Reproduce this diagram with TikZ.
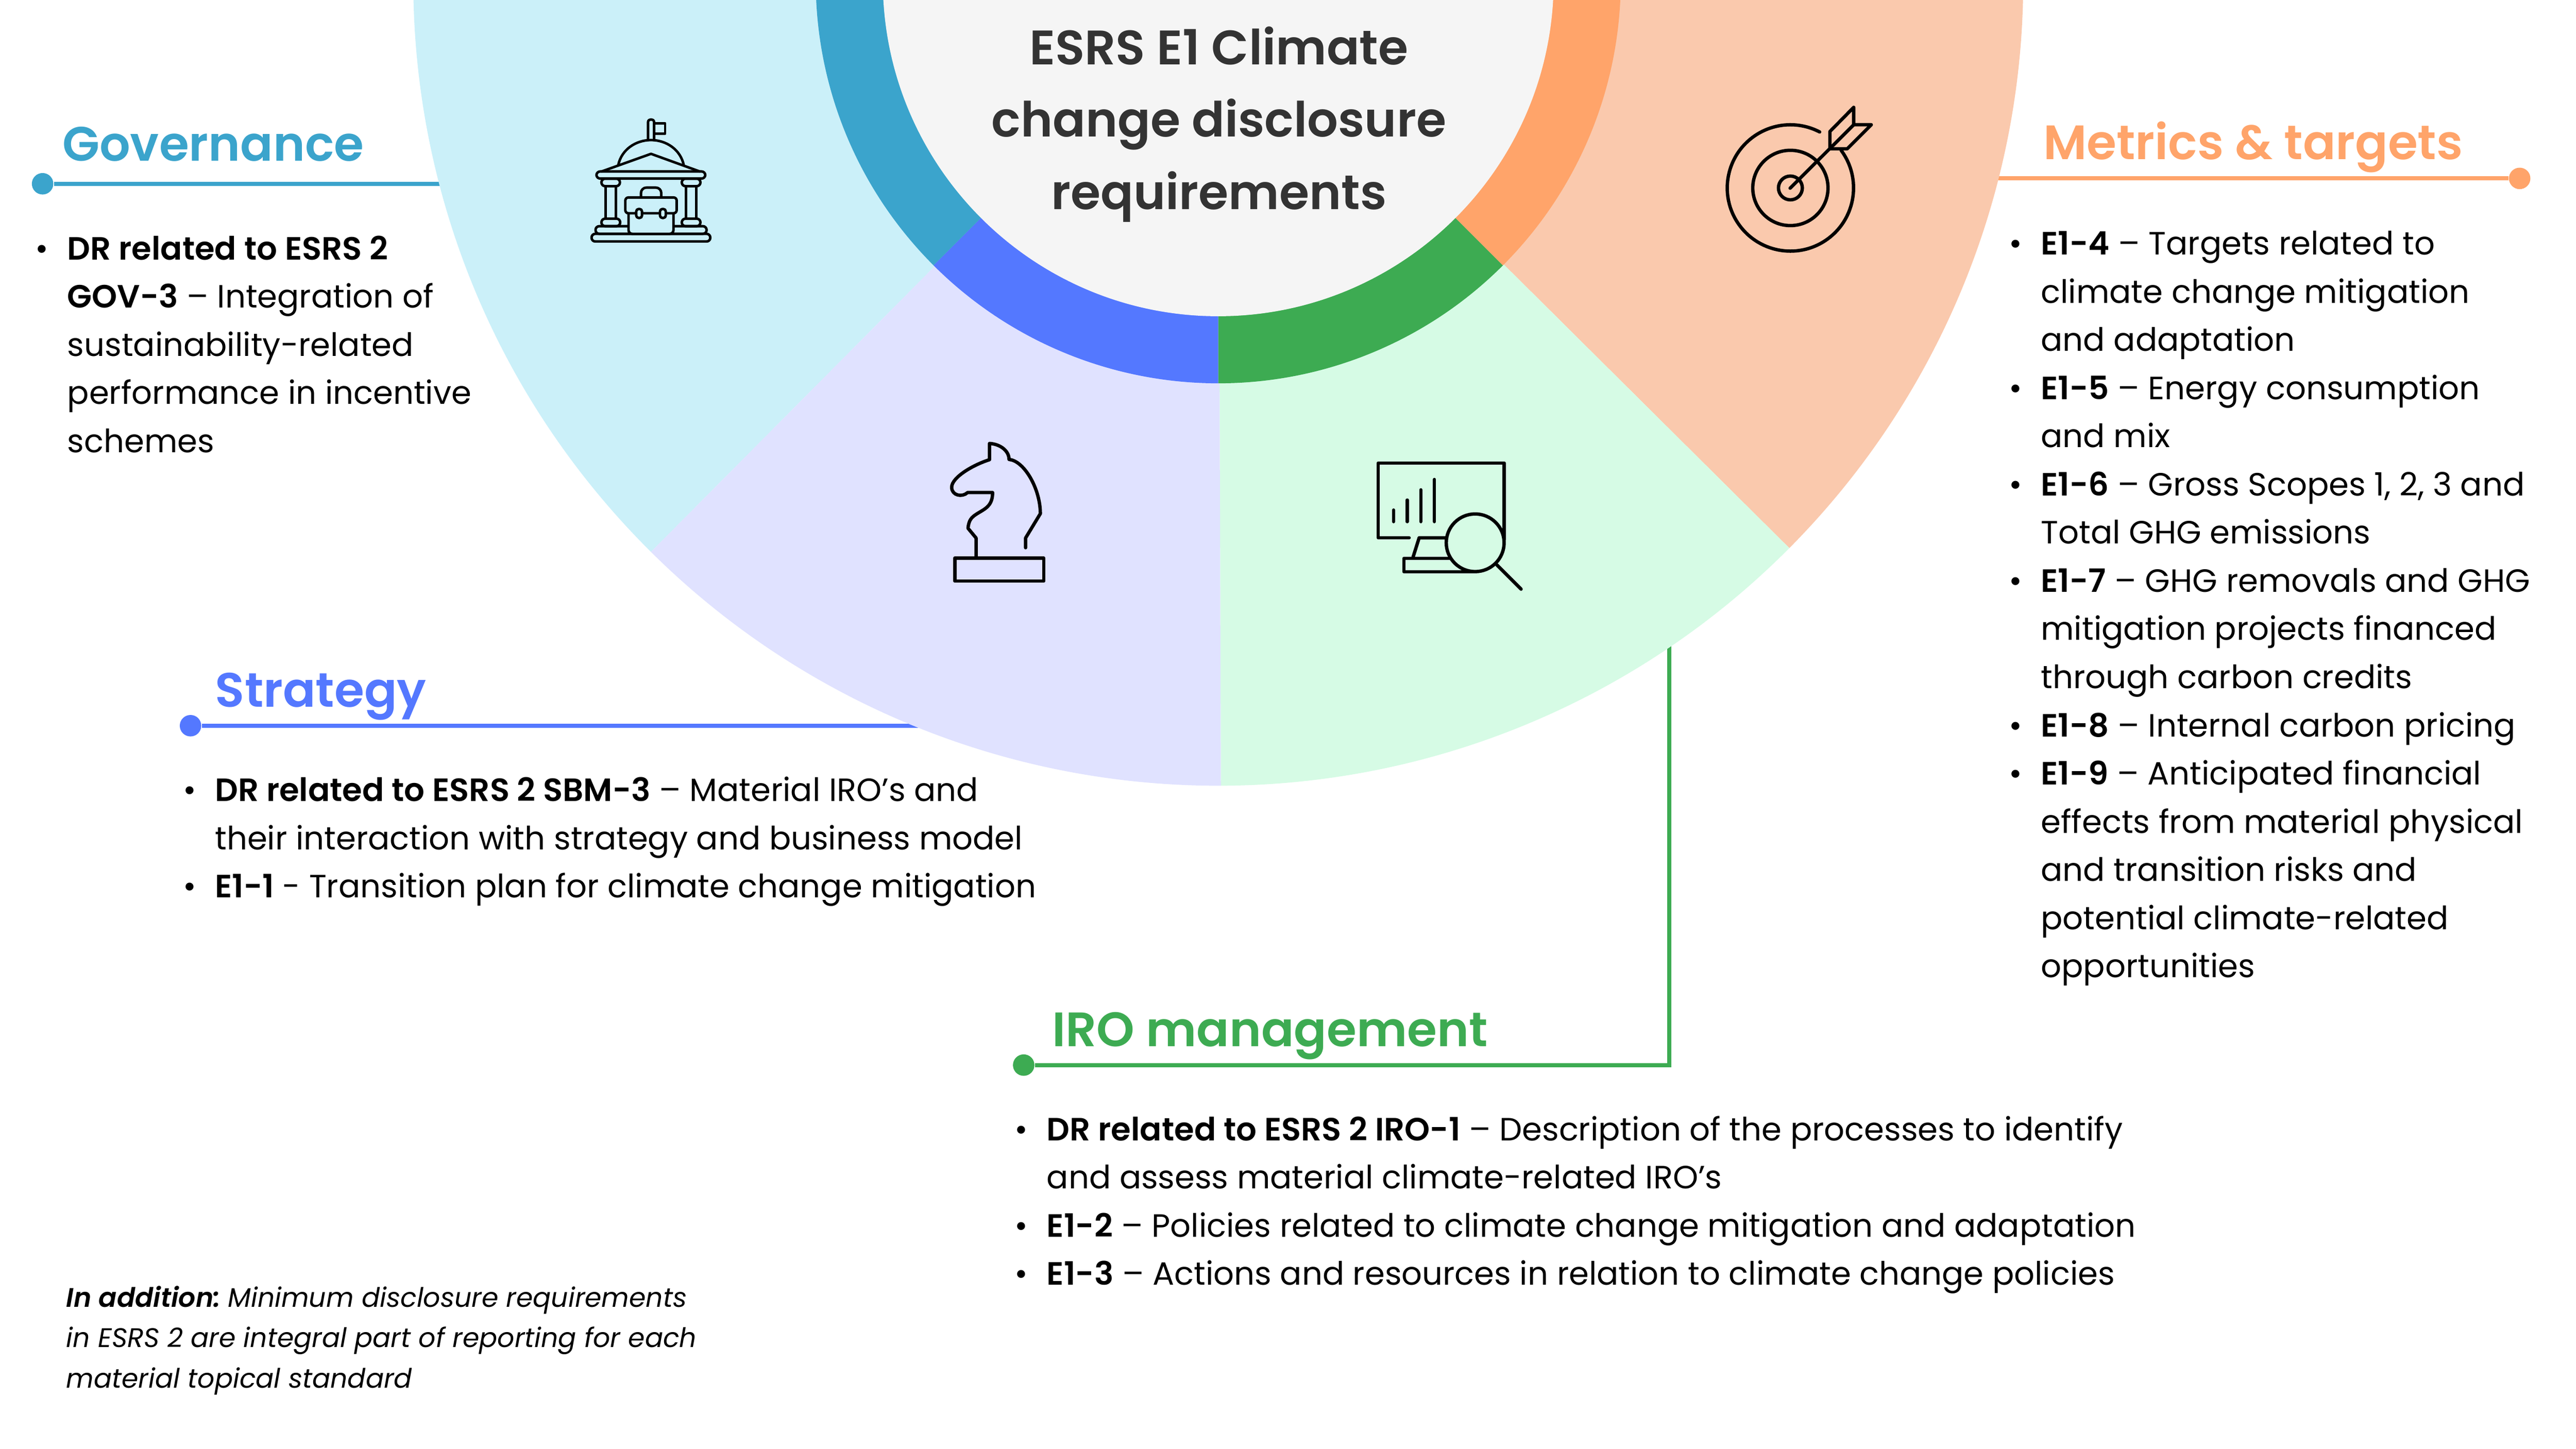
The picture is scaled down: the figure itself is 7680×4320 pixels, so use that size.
\documentclass[tikz,border=0pt]{standalone}
\usepackage{fontspec}
\setmainfont{Poppins}[BoldFont={Poppins SemiBold},ItalicFont={Poppins Italic},BoldItalicFont={Poppins SemiBold Italic}]
\newfontfamily\titlefont{Poppins SemiBold}
\usetikzlibrary{calc}
\definecolor{gov}{HTML}{3BA4CC}
\definecolor{strat}{HTML}{5478FF}
\definecolor{iro}{HTML}{3DAB52}
\definecolor{met}{HTML}{FFA46A}
\definecolor{govl}{HTML}{CBF0F9}
\definecolor{stratl}{HTML}{E0E2FF}
\definecolor{irol}{HTML}{D6FBE5}
\definecolor{metl}{HTML}{FAC9AD}
\definecolor{hub}{HTML}{F5F5F5}
\definecolor{hubtext}{HTML}{333333}
\newcommand{\blt}{\llap{•\hspace{5.6pt}}}
\tikzset{
  x=0.1pt,y=-0.1pt,
  body/.style={anchor=base west,inner sep=0pt,align=left,font=\fontsize{9.6}{14.37}\selectfont,text=black},
  note/.style={anchor=base west,inner sep=0pt,align=left,font=\fontsize{8}{12}\selectfont\itshape,text=black},
  head/.style={anchor=base west,inner sep=0pt,font=\fontsize{14.4}{18}\titlefont},
  hubhead/.style={anchor=base,inner sep=0pt,align=center,text=hubtext,font=\fontsize{14.45}{21.55}\titlefont},
  leader/.style={line width=1.2pt},
  enddot/.style={circle,inner sep=0pt,minimum size=6.4pt,fill},
  icon/.style={line width=1pt,line join=round,line cap=round,draw=black},
  thinicon/.style={line width=.75pt,line join=round,line cap=round,draw=black},
}
\begin{document}
\begin{tikzpicture}
\useasboundingbox (0,0) rectangle (7680,4320);
\clip (0,0) rectangle (7680,4320);
% leaders (beneath the pie)
\node[enddot,fill=gov] (govdot) at (127,548) {};
\coordinate (govend) at (1500,548);
\draw[leader,gov] (govdot) -- (govend);
\node[enddot,fill=strat] (stratdot) at (568,2164) {};
\coordinate (stratend) at (2900,2164);
\draw[leader,strat] (stratdot) -- (stratend);
\node[enddot,fill=iro] (irodot) at (3052,3176) {};
\coordinate (irocorner) at (4976,3176);
\coordinate (iroend) at (4976,1800);
\draw[leader,iro] (irodot) -- (irocorner) -- (iroend);
\node[enddot,fill=met] (metdot) at (7512,532) {};
\coordinate (metend) at (5800,532);
\draw[leader,met] (metdot) -- (metend);
% pie
\coordinate (c) at (3632,-57);
\fill[govl] (c) -- +(134.81:2400) arc[start angle=134.81,end angle=270,radius=2400] -- cycle;
\fill[metl] (c) -- +(270:2400) arc[start angle=270,end angle=404.81,radius=2400] -- cycle;
\fill[irol] (c) -- +(44.81:2400) arc[start angle=44.81,end angle=89.81,radius=2400] -- cycle;
\fill[stratl] (c) -- +(89.81:2400) arc[start angle=89.81,end angle=134.81,radius=2400] -- cycle;
% ring
\fill[gov] (c) -- +(135:1200) arc[start angle=135,end angle=270,radius=1200] -- cycle;
\fill[met] (c) -- +(270:1200) arc[start angle=270,end angle=405,radius=1200] -- cycle;
\fill[iro] (c) -- +(45:1200) arc[start angle=45,end angle=90,radius=1200] -- cycle;
\fill[strat] (c) -- +(90:1200) arc[start angle=90,end angle=135,radius=1200] -- cycle;
\fill[hub] (c) circle[radius=1000];
% hub title
\node[hubhead] (hubtitle) at (3634,624) {ESRS E1 Climate\\change disclosure\\requirements};
% headings
\node[head,text=gov] (govhead) at (184,480) {Governance};
\node[head,text=strat] (strathead) at (640,2108) {Strategy};
\node[head,text=iro] (irohead) at (3135,3120) {IRO management};
\node[head,text=met] (methead) at (6090,476) {Metrics \& targets};
% bodies
\node[body] (govbody) at (199,1349) {\blt\textbf{DR related to ESRS 2}\\\textbf{GOV-3} – Integration of\\sustainability-related\\performance in incentive\\schemes};
\node[body] (stratbody) at (639,2677) {\blt\textbf{DR related to ESRS 2 SBM-3} – Material IRO’s and\\their interaction with strategy and business model\\\blt\textbf{E1-1} - Transition plan for climate change mitigation};
\node[body] (irobody) at (3119,3832) {\blt\textbf{DR related to ESRS 2 IRO-1} – Description of the processes to identify\\and assess material climate-related IRO’s\\\blt\textbf{E1-2} – Policies related to climate change mitigation and adaptation\\\blt\textbf{E1-3} – Actions and resources in relation to climate change policies};
\node[body] (metbody) at (6083,2915) {\blt\textbf{E1-4} – Targets related to\\climate change mitigation\\and adaptation\\\blt\textbf{E1-5} – Energy consumption\\and mix\\\blt\textbf{E1-6} – Gross Scopes 1, 2, 3 and\\Total GHG emissions\\\blt\textbf{E1-7} – GHG removals and GHG\\mitigation projects financed\\through carbon credits\\\blt\textbf{E1-8} – Internal carbon pricing\\\blt\textbf{E1-9} – Anticipated financial\\effects from material physical\\and transition risks and\\potential climate-related\\opportunities};
\node[note] (addnote) at (196,4138) {\textbf{In addition:}\hspace{-1pt} Minimum disclosure requirements\\in ESRS 2 are integral part of reporting for each\\material topical standard};
% icon: governance
\begin{scope}[shift={(1650,250)},xscale=0.3827,yscale=0.3508,thinicon]
\draw (737,470) -- (737,325) .. controls (737,295) and (784,295) .. (784,325) -- (784,470);
\draw (784,337) -- (870,337) -- (870,422) -- (784,422);
\draw (505,690) .. controls (530,560) and (640,478) .. (760,478) .. controls (880,478) and (990,560) .. (1015,690);
\draw (375,745) -- (760,595) -- (1140,745);
\draw[rounded corners=1.1pt] (335,745) rectangle (1183,805);
\draw[rounded corners=1.1pt] (374,806) rectangle (518,870);
\draw[rounded corners=1.1pt] (1000,806) rectangle (1145,870);
\draw (406,870) -- (406,1145) (486,870) -- (486,1145);
\draw (1033,870) -- (1033,1145) (1112,870) -- (1112,1145);
\draw[rounded corners=1.1pt] (374,1146) rectangle (520,1210);
\draw[rounded corners=1.1pt] (1000,1146) rectangle (1145,1210);
\draw[rounded corners=1.1pt] (328,1210) rectangle (1193,1275);
\draw[rounded corners=1.1pt] (297,1275) rectangle (1222,1340);
\draw[rounded corners=1.6pt] (682,966) -- (682,882) -- (840,882) -- (840,966);
\draw[fill=govl,rounded corners=1.1pt] (585,1090) -- (585,1275) -- (935,1275) -- (935,1090);
\draw[fill=govl,rounded corners=.9pt] (560,966) rectangle (960,1100);
\draw[fill=govl,rounded corners=.7pt] (645,1064) rectangle (690,1140);
\draw[fill=govl,rounded corners=.7pt] (830,1064) rectangle (875,1140);
\end{scope}
% icon: strategy
\begin{scope}[shift={(2700,1200)},xscale=0.3333,yscale=0.4146,icon]
\draw (440,1120) rectangle (1235,1285);
\draw (630,1120) -- (630,975) -- (558,905) .. controls (565,845) and (590,825) .. (640,800) .. controls (710,765) and (778,745) .. (778,648) -- (555,648) .. controls (505,685) and (412,670) .. (412,610) .. controls (412,540) and (600,450) .. (750,412) -- (750,295) .. controls (850,300) and (925,350) .. (925,410) .. controls (1060,420) and (1205,620) .. (1205,800) -- (1073,975) -- (1073,1045);
\end{scope}
% icon: IRO management
\begin{scope}[shift={(4000,1300)},xscale=0.4146,yscale=0.3508,icon]
\draw (485,866) -- (263,866) -- (263,230) -- (1168,230) -- (1168,880);
\draw (373,630) -- (373,728) (471,545) -- (471,728) (569,458) -- (569,728) (667,370) -- (667,728);
\draw (512,1035) -- (557,866) -- (755,866);
\draw (780,1040) -- (447,1040) -- (447,1155) -- (950,1155);
\draw (960,908) ellipse[x radius=208,y radius=245];
\draw (1115,1095) -- (1290,1302);
\end{scope}
% icon: target
\begin{scope}[shift={(5050,250)},xscale=0.3827,yscale=0.3508,icon]
\draw (752,885) ellipse[x radius=93,y radius=101];
\draw (752,885) ellipse[x radius=293,y radius=320];
\draw ($(752,885)+(-36.6:492 and 537)$) arc[start angle=-36.6,end angle=297.6,x radius=492,y radius=537];
\draw (750,887) -- (1245,348);
\draw (1060,552) -- (1060,405) -- (1245,200) -- (1245,348) -- (1382,348) -- (1195,552) -- cycle;
\end{scope}
\end{tikzpicture}
\end{document}
